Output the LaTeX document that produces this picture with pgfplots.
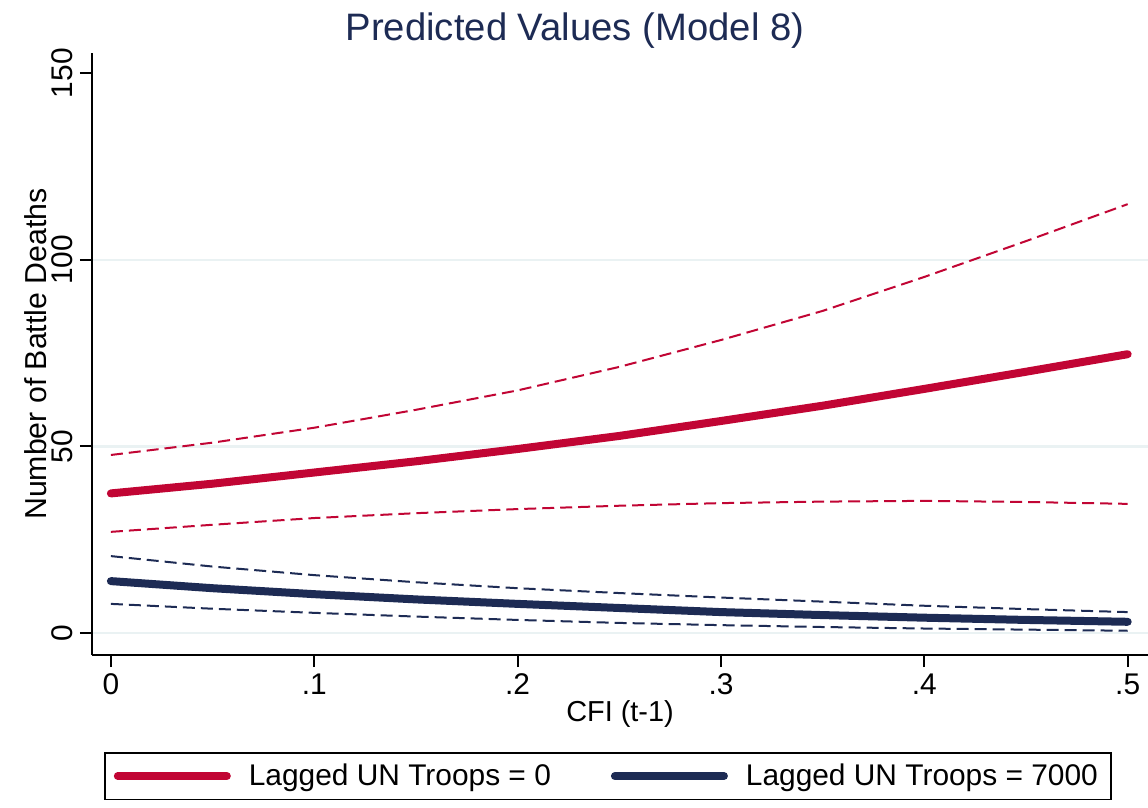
\documentclass[border=0pt]{standalone}
\usepackage{pgfplots}
\pgfplotsset{compat=1.18}
\usepackage{fontspec}
\setmainfont{Liberation Sans}
\definecolor{cran}{RGB}{193,5,52}
\definecolor{nvy}{RGB}{29,43,84}
\definecolor{gridc}{RGB}{234,242,243}

\pgfplotstableread{
x main upper lower
0.00 37.4 47.7 27.1
0.05 40.0 51.0 29.0
0.10 43.0 55.0 30.8
0.15 46.0 59.8 32.1
0.20 49.3 65.0 33.2
0.25 52.8 71.3 34.1
0.30 56.8 78.5 34.8
0.35 60.9 86.3 35.2
0.40 65.4 95.4 35.4
0.45 70.0 105.0 35.1
0.50 74.7 114.9 34.6
}\redtab

\pgfplotstableread{
x main upper lower
0.00 13.9 20.6 7.8
0.05 12.0 17.8 6.5
0.10 10.4 15.5 5.4
0.15 9.0 13.6 4.4
0.20 7.8 12.0 3.5
0.25 6.7 10.7 2.7
0.30 5.6 9.5 2.1
0.35 4.8 8.4 1.6
0.40 4.1 7.3 1.2
0.45 3.5 6.4 0.9
0.50 3.0 5.6 0.6
}\navytab

\begin{document}
\begin{tikzpicture}[x=1bp,y=1bp]
\begin{axis}[
  name=ax,
  scale only axis, width=528bp, height=301bp,
  xmin=-0.0093, xmax=0.51, ymin=-5.9, ymax=155.4,
  axis x line*=bottom, axis y line*=left,
  axis line style={line width=1bp, black, -},
  tick align=outside, major tick length=6bp,
  tick style={black, line width=1bp},
  xtick={0,0.1,0.2,0.3,0.4,0.5},
  xticklabels={0,.1,.2,.3,.4,.5},
  ytick={0,50,100},
  yticklabels={0,50,100},
  extra y ticks={150},
  extra y tick labels={150},
  extra y tick style={grid=none},
  /pgf/number format/assume math mode=true,
  ticklabel style={font=\fontsize{15}{18}\selectfont},
  yticklabel style={rotate=90, anchor=south},
  ymajorgrids, grid style={gridc, line width=1.2bp},
  xlabel={CFI (t-1)}, ylabel={Number of Battle Deaths},
  xlabel style={font=\fontsize{14.5}{17}\selectfont, yshift=4bp},
  ylabel style={font=\fontsize{15.2}{18}\selectfont, at={(axis description cs:-0.053,0.5)}, anchor=center, rotate=0},
  legend columns=2,
  legend style={at={(axis description cs:0.0114,-0.161)}, anchor=north west,
    draw=black, line width=0.8bp, inner xsep=4.5bp, inner ysep=3.5bp,
    font=\fontsize{15}{18}\selectfont,
    /tikz/every even column/.append style={column sep=28bp},
    /tikz/every odd column/.append style={column sep=7bp}},
  legend cell align=left,
  legend image code/.code={\draw[#1, line cap=round] (0bp,0bp) -- (54.5bp,0bp);},
]
\addplot[cran, line width=1bp, dash pattern=on 6bp off 3bp, forget plot] table[x=x, y=upper] {\redtab};
\addplot[cran, line width=1bp, dash pattern=on 6bp off 3bp, forget plot] table[x=x, y=lower] {\redtab};
\addplot[nvy, line width=1bp, dash pattern=on 6bp off 3bp, forget plot] table[x=x, y=upper] {\navytab};
\addplot[nvy, line width=1bp, dash pattern=on 6bp off 3bp, forget plot] table[x=x, y=lower] {\navytab};
\addplot[cran, line width=4bp, line cap=round] table[x=x, y=main] {\redtab};
\addlegendentry{Lagged UN Troops = 0}
\addplot[nvy, line width=4bp, line cap=round] table[x=x, y=main] {\navytab};
\addlegendentry{Lagged UN Troops = 7000\hspace{8bp}}
\end{axis}
\node[text=nvy, font=\fontsize{19.2}{22}\selectfont] at (241.5,312) {Predicted Values (Model 8)};
\pgfresetboundingbox
\path[use as bounding box] (-46,-76) rectangle (528,327.5);
\end{tikzpicture}
\end{document}
